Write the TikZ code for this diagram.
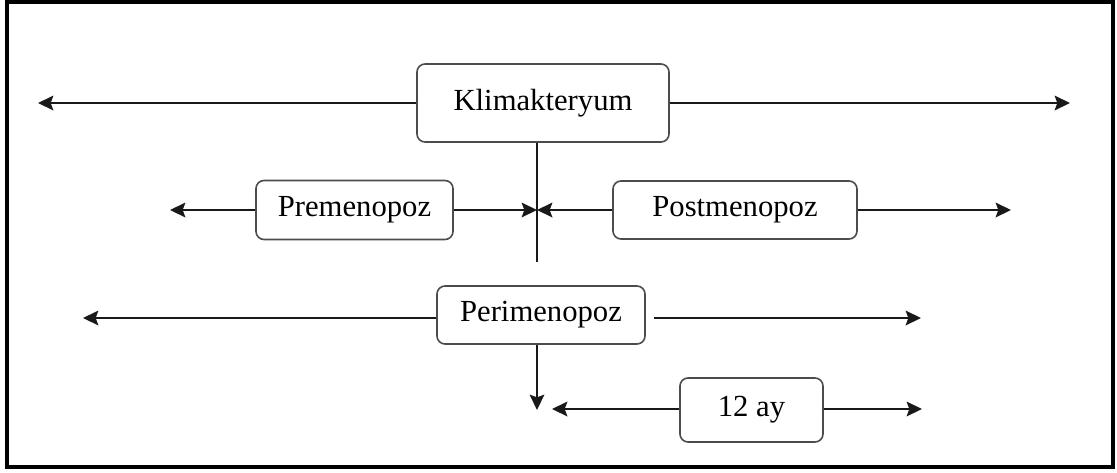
\documentclass[tikz,border=0pt]{standalone}
\usepackage{fontspec}
\setmainfont{Liberation Serif}
\usepackage{tikz}
\usetikzlibrary{calc,arrows.meta}
\tikzset{
 phase/.style = {draw=black!70, line width=1.2pt, rounded corners=6pt,
  inner sep=0pt, font=\fontsize{23pt}{27pt}\selectfont},
 arr/.style = {draw=black!90, line width=1.4pt,
  -{Stealth[length=11.5pt, width=11pt, inset=2pt]}}
}
\newcommand{\connectPh}[3][]{
    \draw[arr, #1] (#2) -- (#3);
}

\begin{document}
\begin{tikzpicture}[x=0.75pt, y=-0.75pt]
    \useasboundingbox (0, 0) rectangle (1117, 472);
    \draw[line width=3pt] (7, 2) rectangle (1113, 467);

    \node[phase, minimum width=189pt, minimum height=58.5pt] (klim) at (543, 103) {Klimakteryum};
    \node[phase, minimum width=147.75pt, minimum height=44.25pt] (pre) at (354.5, 210) {Premenopoz};
    \node[phase, minimum width=183pt, minimum height=43.5pt] (post) at (735, 210) {Postmenopoz};
    \node[phase, minimum width=156pt, minimum height=43.5pt] (peri) at (541, 315) {Perimenopoz};
    \node[phase, minimum width=107.25pt, minimum height=48pt] (ay) at (751.5, 410) {12 ay};

    \coordinate (klimL) at (38, 103);
    \coordinate (klimR) at (1070, 103);
    \coordinate (preL) at (170, 210);
    \coordinate (mid) at (537, 210);
    \coordinate (postR) at (1011, 210);
    \coordinate (split) at (537, 262);
    \coordinate (periL) at (83, 318);
    \coordinate (periR) at (921, 318);
    \coordinate (drop) at (537, 410);
    \coordinate (ayL) at (552, 409);
    \coordinate (ayR) at (922, 409);

    \connectPh{klim.west}{klimL}
    \connectPh{klim.east}{klimR}
    \draw[arr, -] (klim.south -| split) -- (split);

    \connectPh{pre.west}{preL}
    \connectPh{pre.east}{mid}
    \connectPh{post.west}{mid}
    \connectPh{post.east}{postR}

    \connectPh{peri.west |- periL}{periL}
    \connectPh[shorten <=6pt]{peri.east |- periR}{periR}
    \connectPh{peri.south -| drop}{drop}

    \connectPh{ay.west |- ayL}{ayL}
    \connectPh{ay.east |- ayR}{ayR}
\end{tikzpicture}
\end{document}
